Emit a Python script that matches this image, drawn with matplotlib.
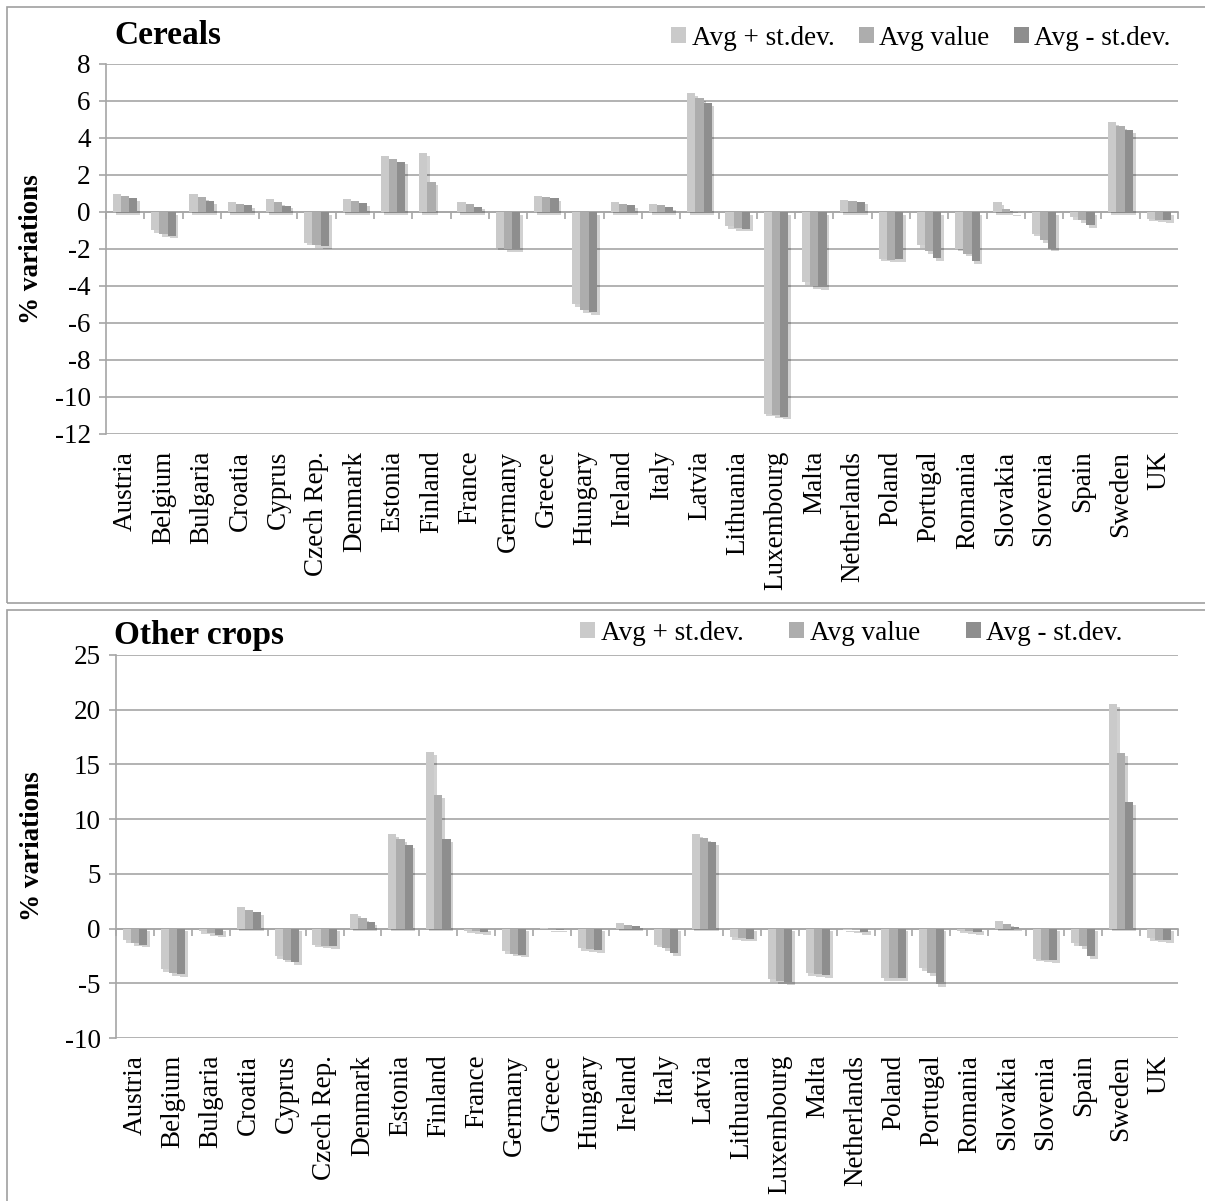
import numpy as np
import matplotlib
matplotlib.use("Agg")
import matplotlib.pyplot as plt
import matplotlib.patheffects as pe
from matplotlib.patches import Rectangle, Patch

plt.rcParams['font.family'] = ['Liberation Serif', 'DejaVu Serif']
plt.rcParams['axes.unicode_minus'] = False

countries = ["Austria", "Belgium", "Bulgaria", "Croatia", "Cyprus", "Czech Rep.",
             "Denmark", "Estonia", "Finland", "France", "Germany", "Greece",
             "Hungary", "Ireland", "Italy", "Latvia", "Lithuania", "Luxembourg",
             "Malta", "Netherlands", "Poland", "Portugal", "Romania", "Slovakia",
             "Slovenia", "Spain", "Sweden", "UK"]
series_names = ["Avg + st.dev.", "Avg value", "Avg - st.dev."]

# cereals (% variations)
cereals_plus = [0.99, -1.0, 0.95, 0.52, 0.68, -1.65, 0.72, 3.04, 3.2, 0.52, -1.92, 0.85,
                -5.0, 0.52, 0.45, 6.44, -0.77, -10.9, -3.78, 0.67, -2.52, -1.8, -1.98, 0.54,
                -1.17, -0.27, 4.87, -0.36]
cereals_avg = [0.85, -1.2, 0.79, 0.45, 0.52, -1.8, 0.61, 2.84, 1.62, 0.41, -2.0, 0.79,
               -5.3, 0.45, 0.36, 6.17, -0.88, -11.0, -4.0, 0.59, -2.57, -2.1, -2.25, 0.18,
               -1.5, -0.45, 4.64, -0.41]
cereals_minus = [0.74, -1.28, 0.58, 0.36, 0.34, -1.85, 0.49, 2.72, 0.0, 0.29, -2.01, 0.74,
                 -5.41, 0.36, 0.25, 5.88, -0.9, -11.06, -4.08, 0.56, -2.55, -2.48, -2.66, -0.08,
                 -1.98, -0.72, 4.41, -0.45]

# other crops (% variations)
other_plus = [-1.06, -3.74, -0.24, 1.98, -2.52, -1.46, 1.37, 8.6, 16.14, -0.18, -2.07, 0.06,
              -1.76, 0.52, -1.46, 8.6, -0.76, -4.59, -4.1, -0.09, -4.5, -3.59, -0.18, 0.67,
              -2.74, -1.31, 20.49, -0.85]
other_avg = [-1.3, -4.04, -0.4, 1.73, -2.83, -1.55, 0.97, 8.18, 12.19, -0.24, -2.28, -0.03,
             -1.91, 0.36, -1.76, 8.27, -0.85, -4.8, -4.19, -0.15, -4.56, -4.04, -0.24, 0.46,
             -2.83, -1.61, 16.02, -1.0]
other_minus = [-1.46, -4.19, -0.55, 1.52, -3.07, -1.61, 0.58, 7.63, 8.21, -0.33, -2.37, -0.09,
               -1.98, 0.27, -2.22, 7.9, -0.91, -4.86, -4.26, -0.3, -4.56, -5.1, -0.3, 0.15,
               -2.89, -2.52, 11.58, -1.06]

bar_colors = ["#CACACA", "#ADADAD", "#8E8E8E"]
grid_col = "#A6A6A6"
W, H = 1205, 1201
FS = 19.5


def draw_panel(ax, series, title, ylim, ystep, ylab_x, title_pos, leg_pos, colspace):
    x = np.arange(len(countries))
    w = 0.214
    shadow = [pe.SimplePatchShadow(offset=(2, -2), shadow_rgbFace="k", alpha=0.18), pe.Normal()]
    for i, (vals, col) in enumerate(zip(series, bar_colors)):
        bars = ax.bar(x + (i - 1) * w, vals, w, color=col, zorder=3, linewidth=0)
        for b in bars:
            b.set_path_effects(shadow)

    ax.set_xlim(-0.5, len(countries) - 0.5)
    ax.set_ylim(*ylim)
    ax.set_yticks(np.arange(ylim[0], ylim[1] + 0.1, ystep))
    ax.yaxis.grid(True, color=grid_col, linewidth=1.2, zorder=0)
    ax.set_axisbelow(True)
    for s in ["top", "right", "bottom"]:
        ax.spines[s].set_visible(False)
    ax.spines["left"].set_color(grid_col)
    ax.spines["left"].set_linewidth(1.2)
    ax.tick_params(axis="y", length=5, color=grid_col, width=1.2, labelsize=FS, pad=6)
    ax.set_xticks(x, countries, rotation=90, va="top", ha="center")
    ax.tick_params(axis="x", length=0, labelsize=FS, pad=12)

    # zero line with category boundary ticks
    sec = ax.secondary_xaxis(0, transform=ax.transData)
    sec.set_xticks(np.arange(len(countries) + 1) - 0.5)
    sec.tick_params(axis="x", length=5, color=grid_col, width=1.2, labelbottom=False, direction="out")
    sec.spines["bottom"].set_color(grid_col)
    sec.spines["bottom"].set_linewidth(1.2)

    ax.set_ylabel("% variations", fontsize=FS, fontweight="bold")
    ax.yaxis.set_label_coords(ylab_x, 0.5)
    ax.text(title_pos[0], title_pos[1], title, transform=ax.transAxes, fontsize=24,
            fontweight="bold", ha="left", va="center")
    handles = [Patch(facecolor=c, edgecolor="none") for c in bar_colors]
    ax.legend(handles, series_names, loc="center right", bbox_to_anchor=leg_pos, ncol=3,
              frameon=False, fontsize=FS, handlelength=0.55, handleheight=0.55,
              handletextpad=0.2, columnspacing=colspace, borderpad=0, borderaxespad=0)


fig = plt.figure(figsize=(W / 100, H / 100), dpi=100)

ax1 = fig.add_axes([106 / W, 1 - 434 / H, 1072 / W, 370 / H])
draw_panel(ax1, [cereals_plus, cereals_avg, cereals_minus], "Cereals", (-12, 8), 2,
           -0.058, (0.008, 1.076), (0.993, 1.070), 0.9)

ax2 = fig.add_axes([116 / W, 1 - 1038 / H, 1062 / W, 383 / H])
draw_panel(ax2, [other_plus, other_avg, other_minus], "Other crops", (-10, 25), 5,
           -0.067, (-0.002, 1.052), (0.948, 1.057), 1.7)

# chart frames
fig.patches.append(Rectangle((7 / W, 1 - 603 / H), 1.0, 596 / H, transform=fig.transFigure,
                             fill=False, edgecolor="#A0A0A0", linewidth=1.2))
fig.patches.append(Rectangle((7 / W, -0.05), 1.0, 1 - 610 / H + 0.05, transform=fig.transFigure,
                             fill=False, edgecolor="#A0A0A0", linewidth=1.2))

fig.savefig("out.png", dpi=100)
